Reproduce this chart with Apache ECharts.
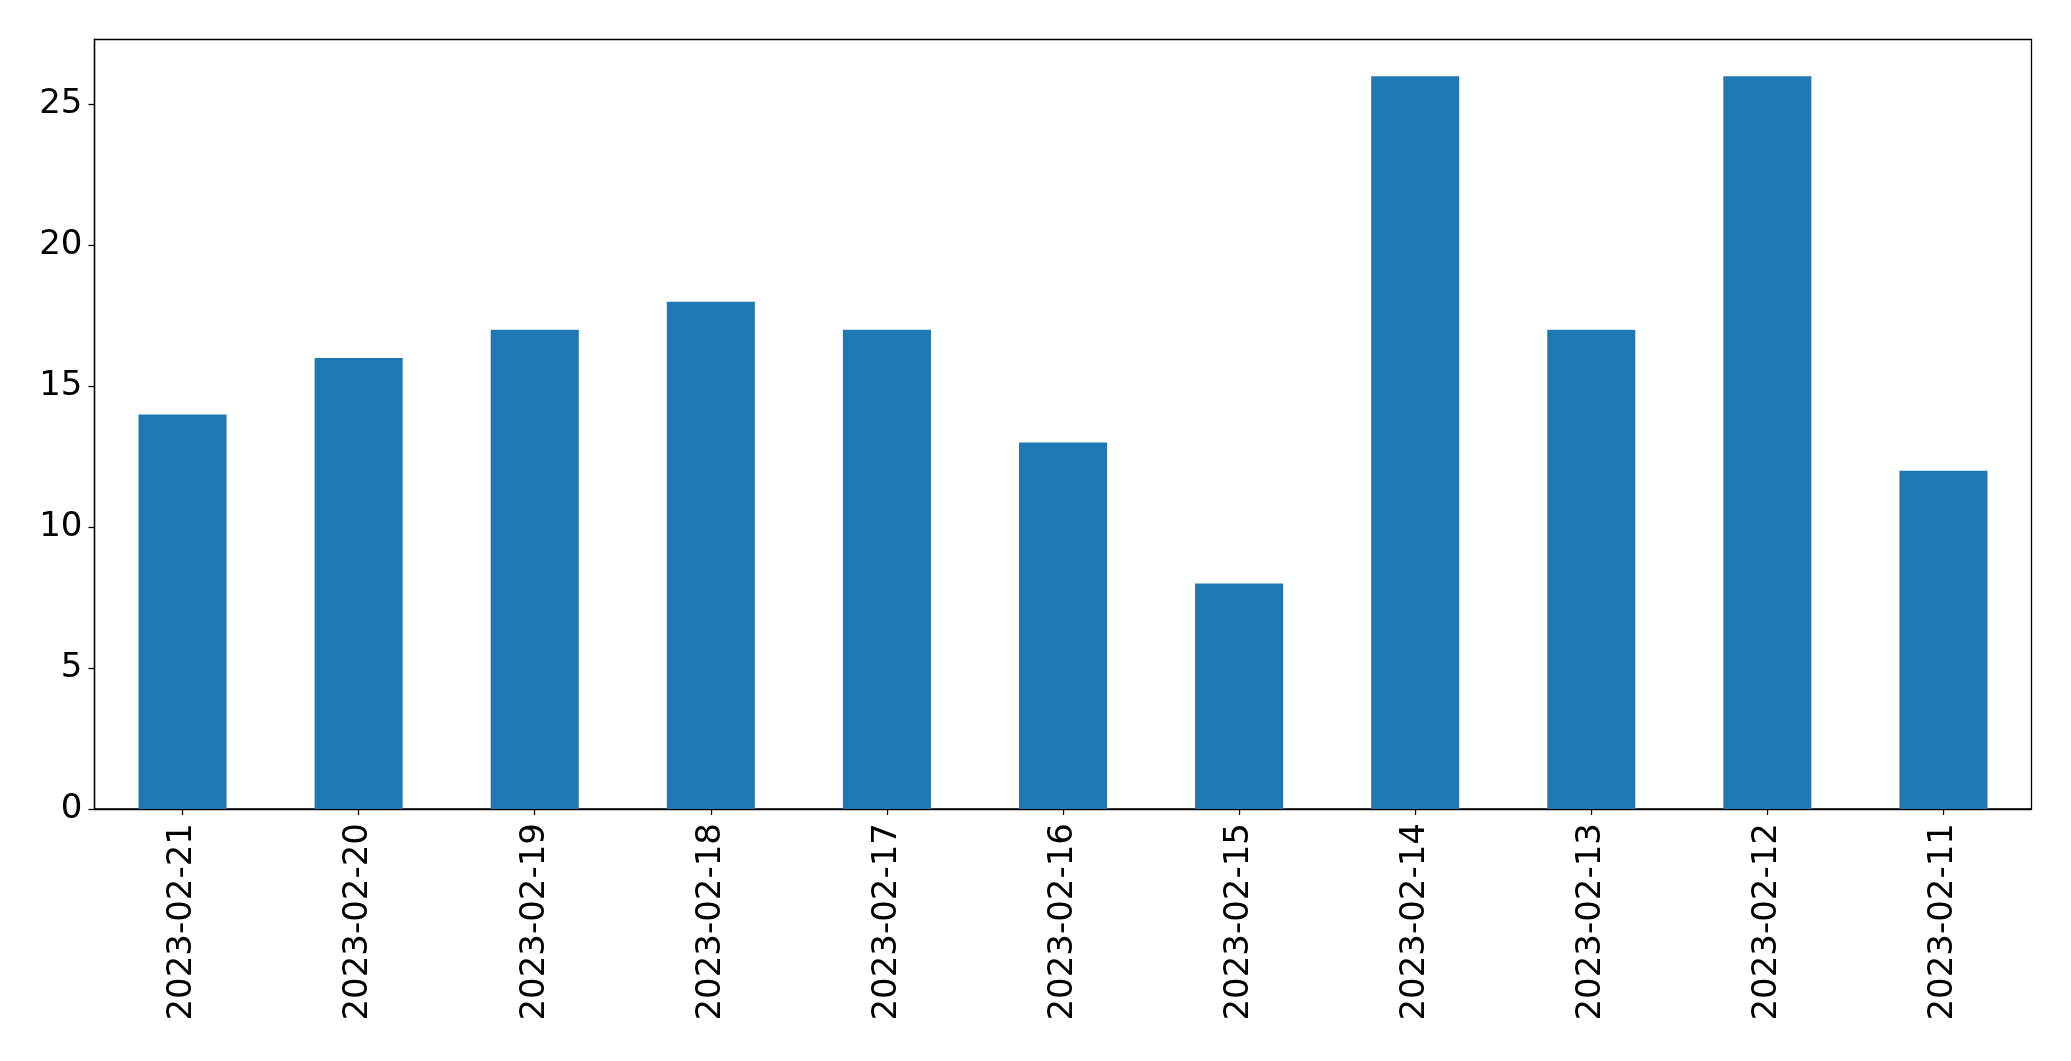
<!DOCTYPE html>
<html>
<head>
<meta charset="utf-8">
<script src="https://cdn.jsdelivr.net/npm/echarts@6/dist/echarts.min.js"></script>
<style>html,body{margin:0;padding:0;background:#fff}#c{width:2071px;height:1061px}</style>
</head>
<body>
<div id="c"></div>
<script>
const categories = ["2023-02-21","2023-02-20","2023-02-19","2023-02-18","2023-02-17","2023-02-16","2023-02-15","2023-02-14","2023-02-13","2023-02-12","2023-02-11"];
const values = [14, 16, 17, 18, 17, 13, 8, 26, 17, 26, 12];
const yTicks = [0, 5, 10, 15, 20, 25];

const chart = echarts.init(document.getElementById('c'), null, {renderer: 'canvas'});
const font = 'DejaVu Sans';
chart.setOption({
  animation: false,
  backgroundColor: '#fff',
  grid: {left: 94.5, right: 39.5, top: 39.5, bottom: 252, show: true, borderColor: '#000', borderWidth: 1.3, backgroundColor: 'transparent'},
  xAxis: {
    type: 'category',
    data: categories,
    boundaryGap: true,
    axisLine: {show: true, lineStyle: {color: '#000', width: 1.3}},
    axisTick: {show: true, alignWithLabel: true, length: 6, lineStyle: {color: '#000', width: 1.3}},
    axisLabel: {rotate: 90, margin: 14, fontFamily: font, fontSize: 34, color: '#000', interval: 0},
    splitLine: {show: false}
  },
  yAxis: {
    type: 'value',
    min: 0,
    max: 27.3,
    interval: 5,
    axisLine: {show: true, lineStyle: {color: '#000', width: 1.3}},
    axisTick: {show: true, length: 6, customValues: yTicks, lineStyle: {color: '#000', width: 1.3}},
    axisLabel: {margin: 12, fontFamily: font, fontSize: 34, color: '#000', customValues: yTicks},
    splitLine: {show: false}
  },
  series: [{
    type: 'bar',
    data: values,
    barWidth: '50%',
    itemStyle: {color: '#1f77b4'}
  }]
});
</script>
</body>
</html>
